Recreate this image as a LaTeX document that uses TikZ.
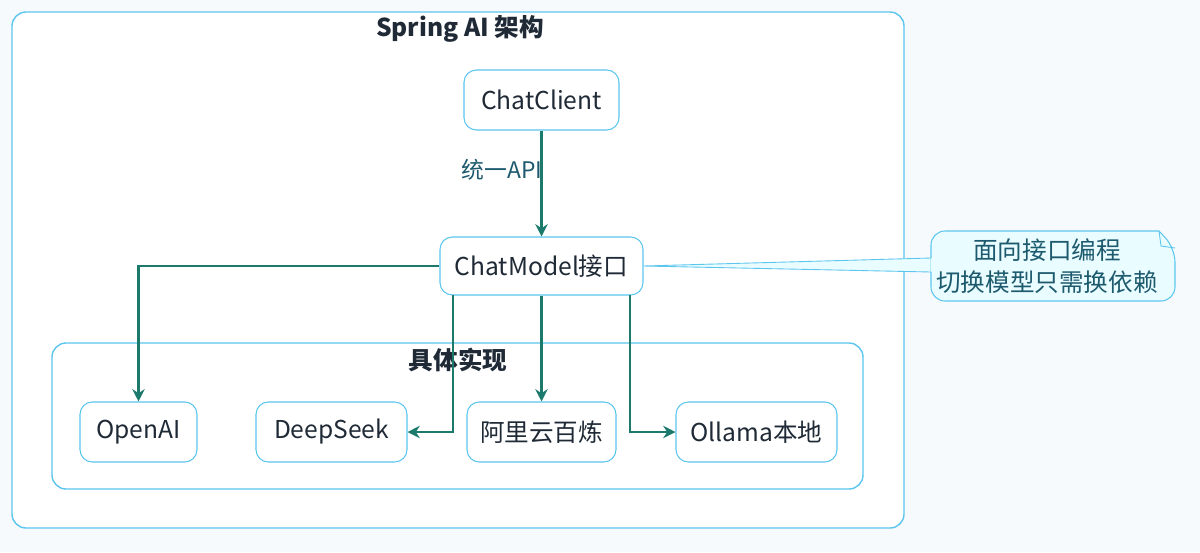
\documentclass[tikz,border=0pt]{standalone}
\usepackage{fontspec}
\setmainfont{Noto Sans CJK SC}
\begin{document}
\begin{tikzpicture}[x=0.02cm,y=-0.02cm,
  bx/.style={draw=boxc,fill=white,rounded corners=7pt,line width=0.6pt,text=txt,font=\fontsize{14}{17}\selectfont},
  ar/.style={draw=arc,line width=1.3pt,-{Stealth[length=7pt,width=7pt]}},
  grp/.style={draw=boxc,rounded corners=8pt,line width=0.8pt}]
\definecolor{boxc}{HTML}{5CC6EE}
\definecolor{arc}{HTML}{1B7A6C}
\definecolor{txt}{HTML}{1F2A36}
\definecolor{bg}{HTML}{F7FAFD}
\definecolor{notef}{HTML}{E9FCFF}
\definecolor{notet}{HTML}{1D5A6E}
\usetikzlibrary{arrows.meta}
\fill[bg] (0,0) rectangle (1200,552);
\useasboundingbox (0,0) rectangle (1200,552);
\draw[grp,fill=white] (12,12) rectangle (904,528);
\node[font=\bfseries\fontsize{14}{17}\selectfont,text=txt] (t1) at (460,29) {Spring AI 架构};
\draw[grp] (52,343) rectangle (863,489);
\node[font=\bfseries\fontsize{14}{17}\selectfont,text=txt] (t2) at (458,360) {具体实现};
\node[bx,minimum width=3.1cm,minimum height=1.2cm] (cc) at (541.5,100) {ChatClient};
\node[bx,minimum width=4.06cm,minimum height=1.16cm] (cm) at (541.5,266) {ChatModel接口};
\node[bx,minimum width=2.34cm,minimum height=1.2cm] (oa) at (138.5,432) {OpenAI};
\node[bx,minimum width=3.02cm,minimum height=1.2cm] (ds) at (331.5,432) {DeepSeek};
\node[bx,minimum width=2.98cm,minimum height=1.2cm] (al) at (541.5,432) {阿里云百炼};
\node[bx,minimum width=3.22cm,minimum height=1.2cm] (ol) at (756.5,432) {Ollama本地};
\draw[ar] (cc) -- (cm);
\node[text=notet,font=\fontsize{13}{16}\selectfont] (lb) at (502,170) {统一API};
\draw[ar] (cm.west) -| (oa.north);
\draw[ar] (453,295) |- (ds.east);
\draw[ar] (cm.south) -- (al.north);
\draw[ar] (630,295) |- (ol.west);
% note
\fill[notef,draw=boxc,line width=0.5pt] (643,266) -- (931,258) -- (931,272) -- cycle;
\draw[draw=boxc,fill=notef,line width=0.6pt,rounded corners=8pt] (931,272) -- (931,301) -- (1175,301) -- (1175,248) [sharp corners]-- (1159,231) [rounded corners=8pt] -- (931,231) -- (931,258);
\draw[boxc,line width=0.5pt] (1159,231) -- (1161,246) -- (1175,248);
\node[text=notet,align=center,font=\fontsize{14}{18}\selectfont] (nt) at (1047,266) {面向接口编程\\切换模型只需换依赖};
\end{tikzpicture}
\end{document}
